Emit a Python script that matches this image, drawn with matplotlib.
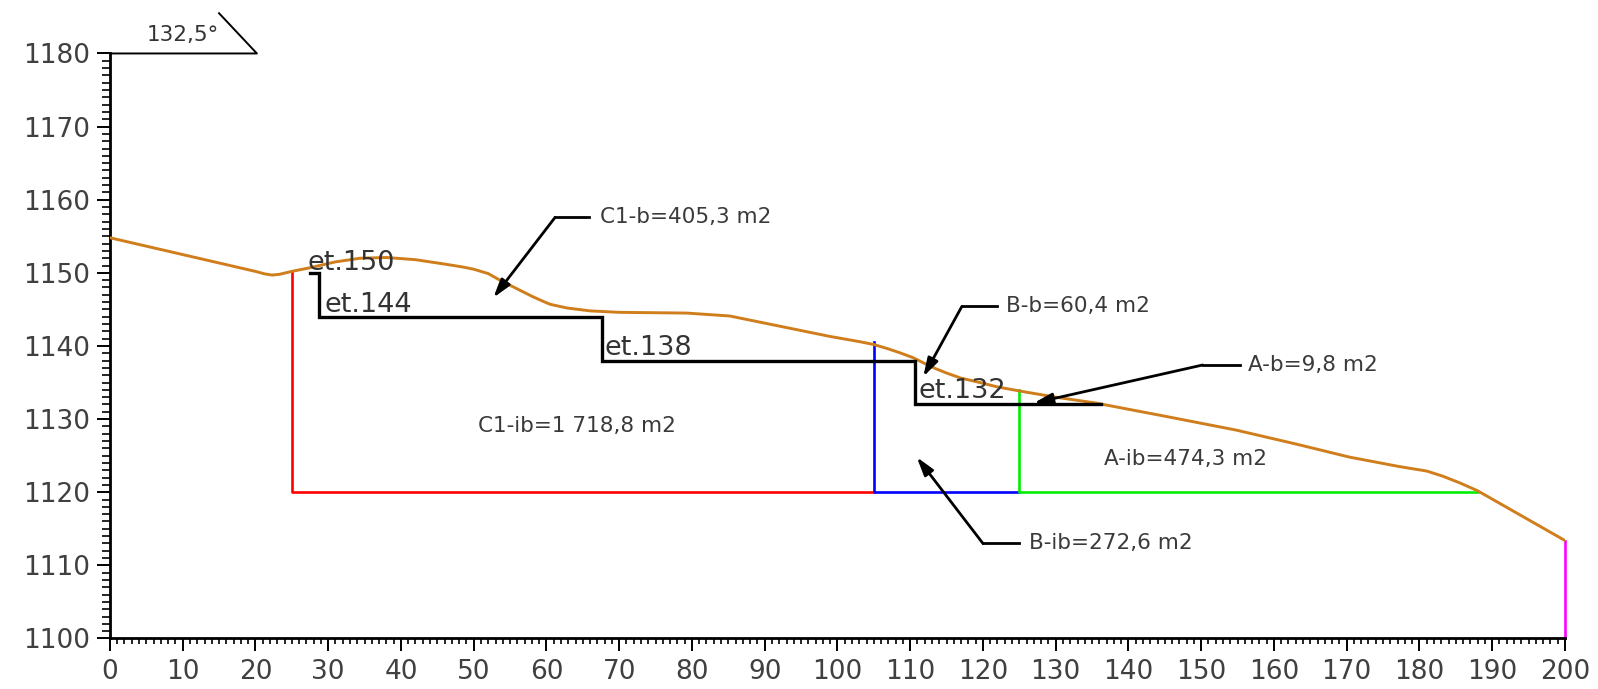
import matplotlib
matplotlib.use("Agg")
import matplotlib.pyplot as plt
from matplotlib.ticker import MultipleLocator

# ---- data ----
profile_x = [0, 20.0, 21.3, 22.3, 23.3, 25, 27.5, 31, 34.4, 38, 42, 46, 48.5, 50,
             52, 53.6, 56, 58, 59.1, 60.5, 62.8, 66, 70, 79.3, 85.2, 92.1, 99, 103,
             105, 107, 108.5, 110.4, 112, 113.5, 115, 117, 119.6, 122, 125.3,
             130, 135.5, 145, 154.8, 163, 170.4, 177.3, 181, 183.2, 185.5, 188, 200]
profile_y = [1154.8, 1150.2, 1149.85, 1149.7, 1149.8, 1150.2, 1150.7, 1151.5, 1152.0,
             1152.1, 1151.8, 1151.2, 1150.8, 1150.5, 1149.9, 1149.0, 1147.8, 1146.8,
             1146.3, 1145.7, 1145.2, 1144.8, 1144.6, 1144.5, 1144.1, 1142.7, 1141.3,
             1140.6, 1140.2, 1139.6, 1139.1, 1138.4, 1137.6, 1136.9, 1136.3, 1135.6,
             1135.0, 1134.4, 1133.8, 1133.0, 1132.2, 1130.4, 1128.5, 1126.6, 1124.8,
             1123.5, 1122.9, 1122.2, 1121.3, 1120.2, 1113.4]

bench_x = [27.5, 28.7, 28.7, 67.7, 67.7, 110.6, 110.6, 136.2]
bench_y = [1150, 1150, 1144, 1144, 1138, 1138, 1132, 1132]

red_x = [25, 25, 105]
red_y = [1150.2, 1120, 1120]
blue_x = [105, 105, 125]
blue_y = [1140.5, 1120, 1120]
green_x = [125, 125, 188]
green_y = [1134, 1120, 1120]
magenta_x = [200, 200]
magenta_y = [1113.4, 1100]

bench_labels = ["et.150", "et.144", "et.138", "et.132"]
bench_label_x = [27.2, 29.5, 68.0, 111.1]
bench_label_y = [1150.4, 1144.7, 1138.8, 1132.9]

callout_texts = ["C1-b=405,3 m2", "B-b=60,4 m2", "A-b=9,8 m2", "B-ib=272,6 m2"]
callout_text_x = [67.3, 123.2, 156.4, 126.3]
callout_text_y = [1157.6, 1145.4, 1137.4, 1113.0]
callout_knee_x0 = [61.2, 117.1, 150.2, 120.0]
callout_knee_x1 = [65.9, 122.0, 155.3, 124.9]
callout_tip_x = [52.7, 111.8, 127.0, 110.9]
callout_tip_y = [1146.6, 1135.8, 1132.2, 1124.8]

area_texts = ["C1-ib=1 718,8 m2", "A-ib=474,3 m2"]
area_x = [50.6, 136.6]
area_y = [1129.1, 1124.6]

angle_text = "132,5°"
angle_line_x = [0, 20.2, 15.0]
angle_line_y = [1180, 1180, 1185.5]

# ---- figure ----
fig = plt.figure(figsize=(15.98, 6.89), dpi=100)
ax = fig.add_axes([0.0688, 0.0733, 0.9105, 0.8491])

ax.plot(profile_x, profile_y, color="#d07d1c", lw=2.1, zorder=3,
        solid_joinstyle="round", solid_capstyle="round")
ax.plot(bench_x, bench_y, color="black", lw=2.4, zorder=4, solid_joinstyle="miter")
ax.plot(red_x, red_y, color="#ff0000", lw=1.9, zorder=2)
ax.plot(blue_x, blue_y, color="#0000ff", lw=1.9, zorder=2)
ax.plot(green_x, green_y, color="#00ee00", lw=1.9, zorder=2)
ax.plot(magenta_x, magenta_y, color="#ff00ff", lw=1.9, zorder=2, clip_on=False)

txtc = "#333333"
for s, x, y in zip(bench_labels, bench_label_x, bench_label_y):
    ax.text(x, y, s, fontsize=19.5, color=txtc, va="baseline", ha="left", zorder=5)

for s, tx, ty, k0, k1, px, py in zip(callout_texts, callout_text_x, callout_text_y,
                                      callout_knee_x0, callout_knee_x1,
                                      callout_tip_x, callout_tip_y):
    ax.plot([k0, k1], [ty, ty], color="black", lw=2.0, zorder=5)
    ax.annotate("", xy=(px, py), xytext=(k0, ty),
                arrowprops=dict(arrowstyle="-|>,head_length=1.0,head_width=0.3",
                                color="black", lw=2.0, mutation_scale=11,
                                shrinkA=0, shrinkB=0), zorder=5)
    ax.text(tx, ty, s, fontsize=15.5, color="#3a3a3a", va="center", ha="left")

for s, x, y in zip(area_texts, area_x, area_y):
    ax.text(x, y, s, fontsize=15.5, color="#3a3a3a", va="center", ha="left")

ax.plot(angle_line_x, angle_line_y, color="black", lw=1.4, clip_on=False)
ax.text(5.0, 1181.7, angle_text, fontsize=15.5, color=txtc, va="baseline", ha="left")

ax.set_xlim(0, 200)
ax.set_ylim(1100, 1180)
ax.xaxis.set_major_locator(MultipleLocator(10))
ax.xaxis.set_minor_locator(MultipleLocator(1))
ax.yaxis.set_major_locator(MultipleLocator(10))
ax.yaxis.set_minor_locator(MultipleLocator(1))
for sp in ["top", "right"]:
    ax.spines[sp].set_visible(False)
for sp in ["left", "bottom"]:
    ax.spines[sp].set_linewidth(2.0)
ax.tick_params(axis="both", which="major", direction="out", length=9.5, width=1.4,
               labelsize=19, labelcolor="#404040", pad=5)
ax.tick_params(axis="x", which="minor", direction="out", length=4.5, width=1.2)
ax.tick_params(axis="y", which="minor", direction="out", length=5.5, width=1.2)

fig.savefig("out.png", dpi=100)
